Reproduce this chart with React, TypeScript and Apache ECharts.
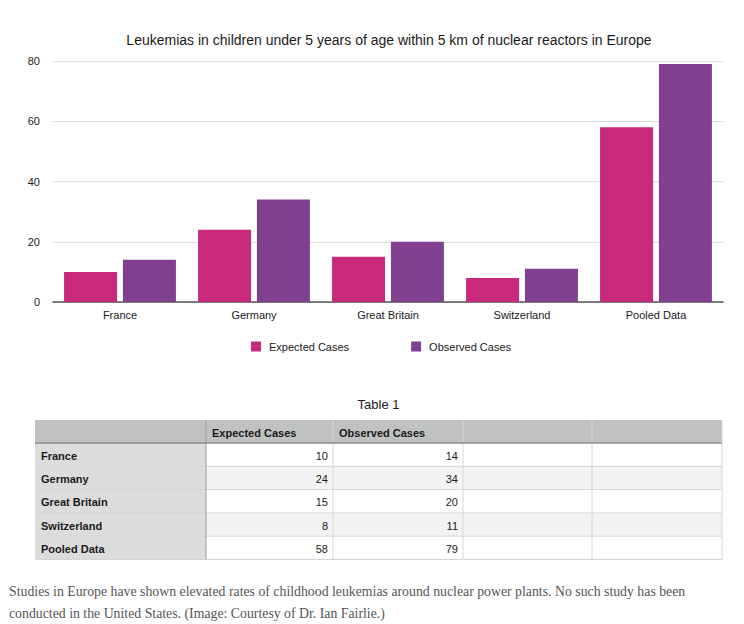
import React, { useEffect, useRef } from 'react';
import * as echarts from 'echarts';

const chartTitle = 'Leukemias in children under 5 years of age within 5 km of nuclear reactors in Europe';
const categories = ['France', 'Germany', 'Great Britain', 'Switzerland', 'Pooled Data'];
const seriesNames = ['Expected Cases', 'Observed Cases'];
const expectedCases = [10, 24, 15, 8, 58];
const observedCases = [14, 34, 20, 11, 79];
const seriesColors = ['#C8297A', '#813F8F'];
const yMin = 0;
const yMax = 80;
const yInterval = 20;

const tableTitle = 'Table 1';
const tableHeaders = ['', 'Expected Cases', 'Observed Cases', '', ''];
const captionLines = [
  'Studies in Europe have shown elevated rates of childhood leukemias around nuclear power plants. No such study has been',
  'conducted in the United States. (Image: Courtesy of Dr. Ian Fairlie.)',
];

const SANS = '"Liberation Sans", Arial, Helvetica, sans-serif';
const SERIF = '"Liberation Serif", "Times New Roman", serif';

// table layout
const colEdges = [35, 206, 333, 463, 592, 722];
const headerTop = 420;
const headerH = 23;
const rowH = 23.3;

function buildTable(): any[] {
  const els: any[] = [];
  const left = colEdges[0];
  const right = colEdges[colEdges.length - 1];
  const nRows = categories.length;
  const bodyTop = headerTop + headerH;
  const bottom = bodyTop + nRows * rowH;

  els.push({
    type: 'text',
    style: {
      text: tableTitle, x: (left + right) / 2, y: 404, textAlign: 'center', textVerticalAlign: 'middle',
      fontSize: 13, fontFamily: SANS, fill: '#1a1a1a',
    },
  });
  els.push({ type: 'rect', shape: { x: left, y: headerTop, width: right - left, height: headerH }, style: { fill: '#C0C2C1' } });
  for (let r = 0; r < nRows; r++) {
    const y = bodyTop + r * rowH;
    els.push({ type: 'rect', shape: { x: left, y, width: colEdges[1] - left, height: rowH }, style: { fill: '#DCDCDC' } });
    els.push({
      type: 'rect', shape: { x: colEdges[1], y, width: right - colEdges[1], height: rowH },
      style: { fill: r % 2 === 1 ? '#F3F3F3' : '#FFFFFF' },
    });
  }
  for (let r = 1; r <= nRows; r++) {
    const y = bodyTop + r * rowH;
    els.push({ type: 'line', shape: { x1: left, y1: y, x2: right, y2: y }, style: { stroke: '#D4D4D4', lineWidth: 1 } });
  }
  for (let c = 1; c < colEdges.length; c++) {
    const x = colEdges[c];
    els.push({
      type: 'line', shape: { x1: x, y1: headerTop, x2: x, y2: bottom },
      style: { stroke: c === 1 ? '#9C9C9C' : '#D6D6D6', lineWidth: 1 },
    });
  }
  els.push({ type: 'line', shape: { x1: left, y1: bodyTop, x2: right, y2: bodyTop }, style: { stroke: '#8E8E8E', lineWidth: 1.5 } });

  tableHeaders.forEach((h, c) => {
    if (!h) return;
    els.push({
      type: 'text',
      style: {
        text: h, x: colEdges[c] + 6, y: headerTop + headerH / 2 + 1, textVerticalAlign: 'middle',
        fontSize: 11, fontWeight: 'bold', fontFamily: SANS, fill: '#1a1a1a',
      },
    });
  });
  categories.forEach((cat, r) => {
    const cy = bodyTop + r * rowH + rowH / 2 + 1;
    els.push({
      type: 'text',
      style: { text: cat, x: left + 6, y: cy, textVerticalAlign: 'middle', fontSize: 11, fontWeight: 'bold', fontFamily: SANS, fill: '#1a1a1a' },
    });
    [expectedCases[r], observedCases[r]].forEach((v, k) => {
      els.push({
        type: 'text',
        style: {
          text: String(v), x: colEdges[k + 2] - 5, y: cy, textAlign: 'right', textVerticalAlign: 'middle',
          fontSize: 11, fontFamily: SANS, fill: '#1a1a1a',
        },
      });
    });
  });

  captionLines.forEach((line, i) => {
    els.push({
      type: 'text',
      style: {
        text: line, x: 9, y: 591 + i * 22, textVerticalAlign: 'middle',
        fontSize: 13.8, fontFamily: SERIF, fill: '#555555',
      },
    });
  });
  return els;
}

export default function App() {
  const ref = useRef<HTMLDivElement>(null);
  useEffect(() => {
    document.body.style.margin = '0';
    const chart = echarts.init(ref.current!, null, { renderer: 'svg' });
    chart.setOption({
      animation: false,
      backgroundColor: '#ffffff',
      title: {
        text: chartTitle,
        left: 384,
        top: 28,
        textAlign: 'center',
        textStyle: { fontSize: 14, fontWeight: 'normal', color: '#1a1a1a', fontFamily: SANS },
      },
      legend: {
        data: seriesNames,
        left: 246,
        top: 336,
        itemWidth: 10,
        itemHeight: 10,
        itemGap: 62,
        icon: 'rect',
        textStyle: { fontSize: 11, color: '#1a1a1a', fontFamily: SANS, padding: [0, 0, 0, 3] },
      },
      grid: { left: 53, right: 21, top: 61, bottom: 322 },
      xAxis: {
        type: 'category',
        data: categories,
        axisLine: { lineStyle: { color: '#555555', width: 1.5 } },
        axisTick: { show: false },
        axisLabel: { color: '#1a1a1a', fontSize: 11, margin: 7, fontFamily: SANS },
      },
      yAxis: {
        type: 'value',
        min: yMin,
        max: yMax,
        interval: yInterval,
        axisLine: { show: false },
        axisTick: { show: false },
        axisLabel: { color: '#1a1a1a', fontSize: 11, margin: 13, fontFamily: SANS },
        splitLine: { lineStyle: { color: '#E0E0E0', width: 1 } },
      },
      series: [
        {
          name: seriesNames[0], type: 'bar', data: expectedCases, barWidth: 53, barGap: '11%',
          itemStyle: { color: seriesColors[0] },
        },
        {
          name: seriesNames[1], type: 'bar', data: observedCases, barWidth: 53,
          itemStyle: { color: seriesColors[1] },
        },
      ],
      graphic: buildTable(),
    });
    return () => chart.dispose();
  }, []);
  return <div ref={ref} style={{ width: 744, height: 624 }} />;
}
